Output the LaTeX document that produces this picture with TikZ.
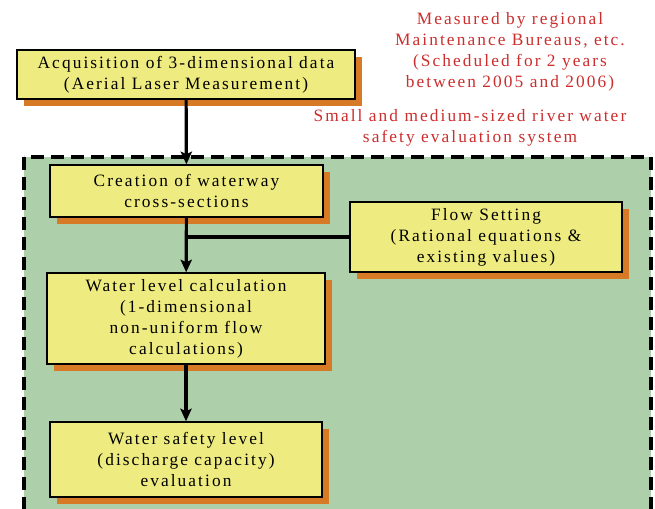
\documentclass[tikz,border=0pt]{standalone}
\usepackage{fontspec}
\setmainfont{Liberation Serif}[LetterSpace=12]
\usetikzlibrary{positioning,shadows,arrows.meta}
\definecolor{boxyellow}{RGB}{238,236,128}
\definecolor{shadeorange}{RGB}{214,122,38}
\definecolor{areagreen}{RGB}{173,207,170}
\definecolor{notered}{RGB}{204,45,45}

\begin{document}
\begin{tikzpicture}
		[x=0.75pt,y=-0.75pt,
		stage/.style={rectangle,draw=black,fill=boxyellow,line width=1.1pt,inner sep=2pt,align=center,
			font=\fontsize{13}{15.75}\selectfont,
			drop shadow={shadow xshift=5.6pt,shadow yshift=-5.6pt,fill=shadeorange,opacity=1}},
		remark/.style={align=center,text=notered,font=\fontsize{13}{15.75}\selectfont},
		link/.style={line width=2.4pt,-{Stealth[length=9.5pt,width=8.5pt,inset=2pt]}}]
		\useasboundingbox (0,0) rectangle (655,508);
		\clip (0,0) rectangle (655,508);
		\draw [fill=areagreen,line width=3pt,dash pattern=on 9.5pt off 5.5pt] (24,157) rectangle (651,540);

		\node [remark] (meas) at (510,51.5) {Measured by regional\\Maintenance Bureaus, etc.\\(Scheduled for 2 years\\between 2005 and 2006)};
		\node [remark] (sys) at (470,127.5) {Small and medium-sized river water\\safety evaluation system};

		\node [stage,minimum width=253.5pt,minimum height=36.75pt] (acq) at (186,74.5) {Acquisition of 3-dimensional data\\(Aerial Laser Measurement)};
		\node [stage,minimum width=204.75pt,minimum height=39pt] (cre) at (186.5,191) {Creation of waterway\\cross-sections};
		\node [stage,minimum width=204pt,minimum height=52.5pt] (flow) at (486,237) {Flow Setting\\(Rational equations \&\\existing values)};
		\node [stage,minimum width=208.5pt,minimum height=68.25pt] (wlc) at (186,318.5) {Water level calculation\\(1-dimensional\\non-uniform flow\\calculations)};
		\node [stage,minimum width=204pt,minimum height=56.25pt] (wsl) at (186,459.5) {Water safety level\\(discharge capacity)\\evaluation};

		\coordinate (join) at (cre.south |- flow.west);
		\draw [link] (acq) -- (cre);
		\draw [link] (cre) -- (wlc);
		\draw [line width=2.4pt] (flow.west) -- (join);
		\draw [link] (wlc) -- (wsl);

	\end{tikzpicture}
\end{document}
